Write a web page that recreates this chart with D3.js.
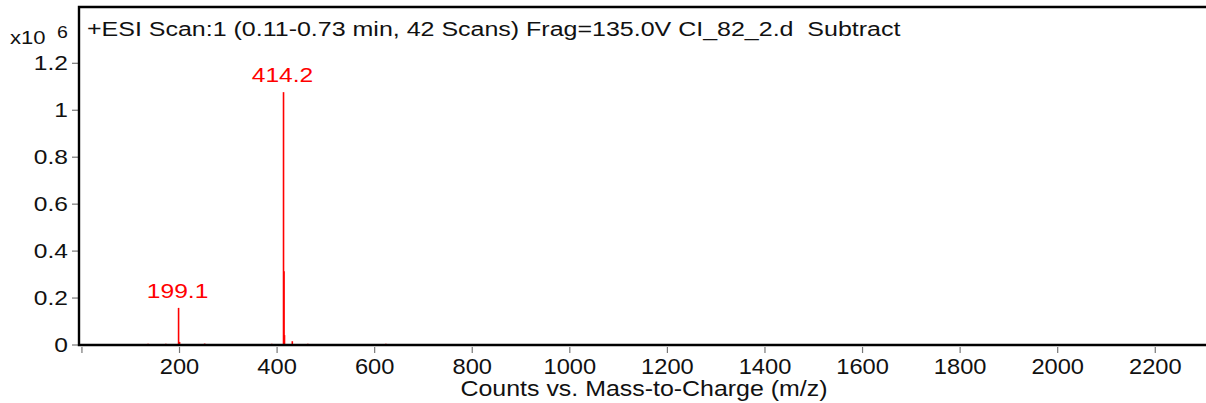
<!DOCTYPE html>
<html>
<head>
<meta charset="utf-8">
<script src="https://cdn.jsdelivr.net/npm/d3@7"></script>
<style>
  body { margin: 0; background: #fff; }
  text { font-family: "Liberation Sans", Arial, sans-serif; white-space: pre; }
</style>
</head>
<body>
<div class="container"></div>
<script>
// peaks: m/z and counts (x10^6)
var mzValues = [136.6, 173.0, 199.1, 201.1, 252.6, 390.0, 414.2, 415.2, 416.2, 432.2, 464.0, 624.0];
var countValues = [0.003, 0.003, 0.156, 0.011, 0.004, 0.003, 1.075, 0.312, 0.04, 0.014, 0.003, 0.003];
var labelMz = [199.1, 414.2];
var labelCounts = [0.156, 1.075];
var xTicks = [0, 200, 400, 600, 800, 1000, 1200, 1400, 1600, 1800, 2000, 2200];
var yTicks = [0, 0.2, 0.4, 0.6, 0.8, 1, 1.2];
var titleText = '+ESI Scan:1 (0.11-0.73 min, 42 Scans) Frag=135.0V CI_82_2.d  Subtract';
var xTitle = 'Counts vs. Mass-to-Charge (m/z)';

var translate = function (x, y) {
    return 'translate(' + x + ', ' + y + ')';
};

var stretchText = function (sel, x, y, sx) {
    return sel.attr('transform', translate(x, y) + ' scale(' + sx + ', 1)');
};

var visualize = function () {
    const WIDTH = 1206;
    const HEIGHT = 403;
    const LEFT = 79;
    const TOP = 7;
    const BOTTOM = 345;

    var xScale = d3.scaleLinear().domain([-5, 2305]).range([LEFT, WIDTH]);
    var yScale = d3.scaleLinear().domain([0, 1.2]).range([344.5, 62.8]);

    var svg = d3.select('.container')
        .append('svg')
        .attr('width', WIDTH)
        .attr('height', HEIGHT);

    // x axis ticks
    var xAxis = d3.axisBottom(xScale)
        .tickValues(xTicks)
        .tickSize(6)
        .tickPadding(6)
        .tickFormat(function (d) { return d === 0 ? '' : d; });
    var gx = svg.append('g')
        .attr('transform', translate(0, BOTTOM + 2))
        .call(xAxis);
    gx.select('.domain').remove();
    gx.selectAll('.tick line').attr('stroke', '#777').attr('stroke-width', 1.2);
    gx.selectAll('.tick text')
        .attr('font-size', 21.5)
        .attr('fill', '#111')
        .attr('y', 0)
        .attr('dy', 0)
        .attr('transform', 'translate(0, 27) scale(1.1, 1)');

    // y axis ticks
    var yAxis = d3.axisLeft(yScale)
        .tickValues(yTicks)
        .tickSize(6)
        .tickPadding(0)
        .tickFormat(function (d) { return d; });
    var gy = svg.append('g')
        .attr('transform', translate(LEFT - 1, 0))
        .call(yAxis);
    gy.select('.domain').remove();
    gy.selectAll('.tick line').attr('stroke', '#777').attr('stroke-width', 1.2);
    gy.selectAll('.tick text').remove();
    gy.selectAll('.tick').append('text')
        .text(function (d) { return d; })
        .attr('font-size', 19.5)
        .attr('fill', '#111')
        .attr('text-anchor', 'end')
        .attr('dy', '0.36em')
        .attr('transform', 'translate(-10, 0) scale(1.26, 1)');

    // peaks
    svg.append('g').selectAll('line')
        .data(mzValues)
        .enter()
        .append('line')
        .attr('x1', function (d) { return xScale(d); })
        .attr('x2', function (d) { return xScale(d); })
        .attr('y1', yScale(0))
        .attr('y2', function (d, i) { return yScale(countValues[i]); })
        .attr('stroke', '#ff0000')
        .attr('stroke-width', 1.6);

    // peak labels
    svg.append('g').selectAll('text')
        .data(labelMz)
        .enter()
        .append('text')
        .text(function (d) { return d.toFixed(1); })
        .attr('font-size', 20.5)
        .attr('fill', '#ff0000')
        .attr('text-anchor', 'middle')
        .attr('transform', function (d, i) {
            return translate(xScale(d) - 1, yScale(labelCounts[i]) - 10) + ' scale(1.2, 1)';
        });

    // frame
    svg.append('path')
        .attr('d', 'M' + (WIDTH + 5) + ',' + TOP + 'H' + LEFT + 'V' + BOTTOM + 'H' + (WIDTH + 5))
        .attr('fill', 'none')
        .attr('stroke', '#000')
        .attr('stroke-width', 2.4);

    // title
    stretchText(svg.append('text').text(titleText)
        .attr('font-size', 20).attr('fill', '#111'), 87, 36, 1.25);

    // exponent
    stretchText(svg.append('text').text('x10')
        .attr('font-size', 19).attr('fill', '#111'), 10, 44, 1.16);
    stretchText(svg.append('text').text('6')
        .attr('font-size', 17).attr('fill', '#111'), 57, 38, 1.15);

    // x title
    stretchText(svg.append('text').text(xTitle)
        .attr('font-size', 21.5).attr('fill', '#111')
        .attr('text-anchor', 'middle'), 644, 396, 1.16);
};

window.onload = visualize;
</script>
</body>
</html>
